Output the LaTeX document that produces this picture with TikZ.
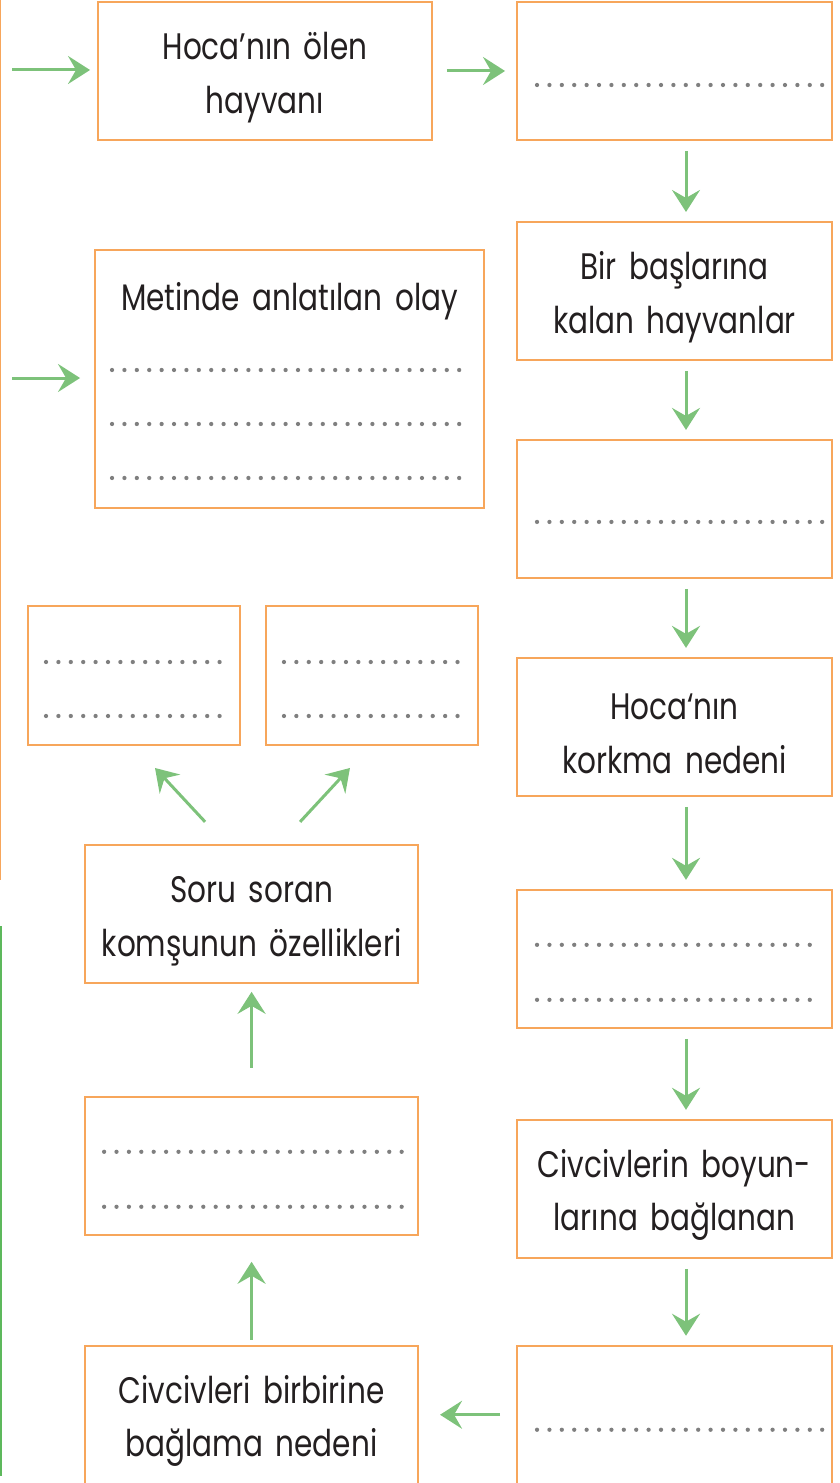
\documentclass[tikz,border=0pt]{standalone}
\usepackage{fontspec}
\setmainfont{Poppins}[FakeStretch=0.8, WordSpace=1.6]
\usetikzlibrary{arrows.meta,positioning,calc}
\definecolor{boxorange}{HTML}{F7A65B}
\definecolor{arrgreen}{HTML}{7DC27A}
\definecolor{edgegreen}{HTML}{5DB85C}
\definecolor{dotgray}{HTML}{7F7F7F}
\definecolor{txtblack}{HTML}{231F20}
\newcommand{\topstrut}{\rule{0pt}{23pt}}
\tikzset{
  box/.style   ={rectangle, draw=boxorange, line width=1.1pt, fill=white,
                 minimum width=6.3cm, minimum height=2.76cm, outer sep=0pt,
                 align=center, text=txtblack, font=\fontsize{21}{30.7}\selectfont},
  wbox/.style  ={box, minimum width=6.66cm},
  sbox/.style  ={box, minimum width=4.24cm, minimum height=2.78cm},
  ttl/.style   ={text=txtblack, font=\fontsize{21}{30.7}\selectfont},
  ar/.style    ={-{Stealth[length=4.4mm,width=5.6mm,inset=1.6mm]}, line width=0.6mm,
                 draw=arrgreen},
  dotln/.style ={dotgray, line width=0.85mm, line cap=round,
                 dash pattern=on 0pt off 2.48mm}
}
\begin{document}
\begin{tikzpicture}[x=0.02cm,y=-0.02cm]
\useasboundingbox (0,0) rectangle (839,1483);
% page edges
\draw[boxorange, line width=0.8pt] (0.5,0) -- (0.5,880);
\draw[edgegreen, line width=0.8pt] (1,926) -- (1,1476);
% right column
\node[box] (b2) at (674.5,71) {};
\node[box, below=1.64cm of b2] (b3) {\topstrut Bir başlarına\\kalan hayvanlar};
\node[box, below=1.6cm of b3]  (b4) {};
\node[box, below=1.6cm of b4]  (b5) {\topstrut Hoca‘nın\\korkma nedeni};
\node[box, below=1.88cm of b5] (b6) {};
\node[box, below=1.84cm of b6] (b7) {\topstrut Civcivlerin boyun-\\larına bağlanan};
\node[box, below=1.76cm of b7] (b8) {};
% left column
\node[box, minimum width=6.68cm] (b1) at (265,71) {\topstrut Hoca’nın ölen\\hayvanı};
\node[box, minimum width=7.78cm, minimum height=5.16cm] (b14) at (289.5,379) {};
\node[ttl, below=0.52cm of b14.north] (b14t) {Metinde anlatılan olay};
\node[sbox] (b12) at (134,675.5) {};
\node[sbox, right=0.52cm of b12] (b13) {};
\node[wbox, left=1.98cm of b8] (b9) {\topstrut Civcivleri birbirine\\bağlama nedeni};
\node[wbox, above=2.22cm of b9] (b10) {};
\node[wbox, above=2.28cm of b10] (b11) {\topstrut Soru soran\\komşunun özellikleri};
% dotted rows
\draw[dotln] ([xshift=0.4cm,yshift=-0.28cm]b2.west) -- ([xshift=-0.14cm,yshift=-0.28cm]b2.east);
\draw[dotln] ([xshift=0.4cm,yshift=-0.26cm]b4.west) -- ([xshift=-0.14cm,yshift=-0.26cm]b4.east);
\draw[dotln] ([xshift=0.4cm,yshift=-0.3cm]b8.west) -- ([xshift=-0.14cm,yshift=-0.3cm]b8.east);
\foreach \dy in {0.28,-0.82}{
  \draw[dotln] ([xshift=0.4cm,yshift=\dy cm]b6.west) -- ([xshift=-0.28cm,yshift=\dy cm]b6.east);
  \draw[dotln] ([xshift=0.38cm,yshift=\dy cm]b10.west) -- ([xshift=-0.32cm,yshift=\dy cm]b10.east);
}
\foreach \dy in {0.27,-0.81}{
  \draw[dotln] ([xshift=0.36cm,yshift=\dy cm]b12.west) -- ([xshift=-0.28cm,yshift=\dy cm]b12.east);
  \draw[dotln] ([xshift=0.36cm,yshift=\dy cm]b13.west) -- ([xshift=-0.28cm,yshift=\dy cm]b13.east);
}
\foreach \dy in {0.18,-0.9,-1.98}
  \draw[dotln] ([xshift=0.34cm,yshift=\dy cm]b14.west) -- ([xshift=-0.32cm,yshift=\dy cm]b14.east);
% arrows
\coordinate (in1) at (12,70);
\coordinate (in2) at (12,378);
\draw[ar, shorten >=0.16cm] (in1) -- (in1 -| b1.west);
\draw[ar, shorten >=0.3cm] (in2) -- (in2 -| b14.west);
\draw[ar, shorten <=0.3cm, shorten >=0.24cm] (b1) -- (b2);
\foreach \a/\b in {b2/b3,b3/b4,b4/b5,b5/b6,b6/b7,b7/b8}
  \draw[ar, shorten <=0.22cm, shorten >=0.2cm] ([xshift=0.23cm]\a.south) -- ([xshift=0.23cm]\b.north);
\draw[ar, shorten <=0.34cm, shorten >=0.44cm] (b8) -- (b9);
\draw[ar, shorten <=0.12cm, shorten >=0.54cm] (b9) -- (b10);
\draw[ar, shorten <=0.58cm, shorten >=0.18cm] (b10) -- (b11);
\draw[ar] ([xshift=-0.93cm,yshift=0.46cm]b11.north) -- ([xshift=0.42cm,yshift=-0.46cm]b12.south);
\draw[ar] ([xshift=0.97cm,yshift=0.46cm]b11.north) -- ([xshift=-0.44cm,yshift=-0.46cm]b13.south);
\end{tikzpicture}
\end{document}
